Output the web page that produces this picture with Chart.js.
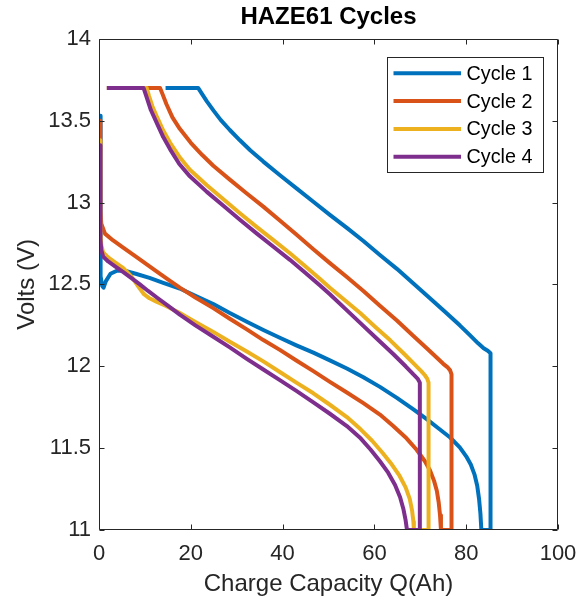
<!DOCTYPE html>
<html>
<head>
<meta charset="utf-8">
<script src="https://cdn.jsdelivr.net/npm/chart.js@4.4.1/dist/chart.umd.min.js"></script>
<style>
  html, body { margin: 0; padding: 0; background: #ffffff; }
  #wrap { width: 588px; height: 600px; }
</style>
</head>
<body>
<div id="wrap"><canvas id="c" width="588" height="600"></canvas></div>
<script>
// Titles and series
const chartTitle = 'HAZE61 Cycles';
const xAxisTitle = 'Charge Capacity Q(Ah)';
const yAxisTitle = 'Volts (V)';
const seriesNames = ['Cycle 1', 'Cycle 2', 'Cycle 3', 'Cycle 4'];
const seriesColors = ['#0072BD', '#D95319', '#EDB120', '#7E2F8E'];

// Axis ticks
const xTicks = [0, 20, 40, 60, 80, 100];
const yTicks = [11, 11.5, 12, 12.5, 13, 13.5, 14];

// Cycle 1: capacity (Ah) and voltage (V), in recorded order
const cycle1Q = [0.3, 0.3, 0.4, 0.7, 1.0, 1.5, 2.5, 4.0, 6.0, 8.0, 11.0, 14.0, 17.6, 21.0, 24.9, 28.5, 32.2, 35.8, 39.4, 43.0, 46.7, 50.3, 54.0, 57.6, 61.2, 64.9, 68.5, 71.4, 74.0, 76.5, 78.6, 80.0, 81.0, 81.8, 82.4, 82.8, 83.1, 83.3, 85.4, 85.4, 85.2, 84.7, 83.8, 82.6, 80.8, 78.6, 75.5, 72.1, 68.5, 64.9, 61.2, 57.6, 54.0, 50.3, 46.7, 43.1, 39.5, 35.8, 33.0, 30.7, 28.5, 26.5, 25.0, 23.5, 22.4, 21.6, 14.5];
const cycle1V = [13.53, 12.75, 12.55, 12.49, 12.48, 12.52, 12.565, 12.585, 12.58, 12.565, 12.54, 12.51, 12.475, 12.43, 12.38, 12.325, 12.272, 12.222, 12.174, 12.128, 12.083, 12.036, 11.986, 11.933, 11.874, 11.807, 11.737, 11.677, 11.62, 11.565, 11.505, 11.45, 11.4, 11.34, 11.27, 11.19, 11.1, 11.0, 11.0, 12.06, 12.08, 12.095, 12.11, 12.14, 12.19, 12.25, 12.33, 12.415, 12.505, 12.595, 12.68, 12.765, 12.845, 12.925, 13.005, 13.085, 13.165, 13.25, 13.318, 13.38, 13.443, 13.505, 13.56, 13.618, 13.665, 13.7, 13.7];

// Cycle 2
const cycle2Q = [0.3, 0.3, 0.5, 1.3, 3.0, 5.5, 8.5, 12.0, 15.0, 17.6, 21.0, 24.9, 28.5, 32.2, 35.8, 39.4, 43.0, 46.7, 50.3, 54.0, 57.6, 61.2, 64.1, 67.0, 69.2, 71.0, 72.1, 73.0, 73.6, 74.0, 74.3, 74.5, 76.8, 76.8, 76.5, 75.9, 75.0, 73.5, 71.4, 68.5, 64.9, 61.2, 57.6, 54.0, 50.3, 46.7, 43.0, 39.4, 35.8, 32.2, 28.5, 24.9, 22.5, 20.0, 17.6, 16.0, 14.7, 13.8, 13.3, 1.8];
const cycle2V = [13.5, 12.95, 12.87, 12.81, 12.77, 12.72, 12.66, 12.59, 12.53, 12.48, 12.42, 12.355, 12.29, 12.225, 12.16, 12.1, 12.035, 11.97, 11.905, 11.84, 11.775, 11.705, 11.635, 11.56, 11.49, 11.42, 11.365, 11.3, 11.24, 11.17, 11.09, 11.0, 11.0, 11.95, 11.975, 11.995, 12.015, 12.055, 12.11, 12.185, 12.28, 12.37, 12.46, 12.545, 12.63, 12.715, 12.805, 12.89, 12.975, 13.055, 13.14, 13.225, 13.29, 13.365, 13.45, 13.52, 13.6, 13.665, 13.7, 13.7];

// Cycle 3
const cycle3Q = [0.3, 0.3, 0.5, 0.9, 2.0, 3.5, 5.3, 7.0, 8.5, 9.8, 11.0, 12.5, 14.5, 17.6, 21.0, 24.9, 28.5, 32.2, 35.8, 39.4, 43.0, 46.7, 50.3, 54.0, 57.0, 59.5, 61.8, 63.8, 65.5, 66.8, 67.7, 68.2, 68.5, 68.6, 71.8, 71.8, 71.5, 71.0, 70.2, 68.8, 66.5, 63.4, 60.2, 56.9, 53.5, 50.3, 48.1, 45.0, 41.6, 38.0, 34.4, 30.7, 27.1, 23.5, 19.8, 17.5, 15.5, 14.0, 12.6, 11.6, 10.9, 10.4, 1.7];
const cycle3V = [13.38, 12.82, 12.74, 12.695, 12.665, 12.635, 12.6, 12.55, 12.49, 12.44, 12.415, 12.395, 12.37, 12.325, 12.27, 12.21, 12.15, 12.09, 12.03, 11.965, 11.9, 11.835, 11.765, 11.69, 11.615, 11.545, 11.47, 11.4, 11.33, 11.26, 11.19, 11.12, 11.05, 11.0, 11.0, 11.9, 11.925, 11.945, 11.97, 12.01, 12.075, 12.16, 12.24, 12.325, 12.405, 12.48, 12.535, 12.61, 12.69, 12.77, 12.85, 12.935, 13.02, 13.105, 13.2, 13.28, 13.365, 13.44, 13.525, 13.59, 13.65, 13.7, 13.7];

// Cycle 4
const cycle4Q = [0.3, 0.3, 0.5, 0.9, 2.0, 3.5, 5.3, 7.0, 8.9, 10.7, 12.6, 15.0, 17.6, 21.0, 24.9, 28.5, 32.2, 35.8, 39.4, 43.0, 46.7, 50.3, 54.0, 57.0, 59.2, 61.2, 63.0, 64.5, 65.6, 66.3, 66.8, 67.1, 69.9, 69.9, 69.4, 68.5, 66.8, 64.1, 60.5, 56.9, 53.5, 50.3, 48.1, 45.0, 41.6, 38.0, 34.4, 30.7, 27.1, 23.5, 19.8, 17.5, 15.5, 14.0, 12.6, 11.3, 10.3, 9.7, 1.7];
const cycle4V = [13.35, 12.78, 12.71, 12.67, 12.64, 12.61, 12.575, 12.54, 12.5, 12.46, 12.42, 12.37, 12.315, 12.25, 12.18, 12.115, 12.045, 11.98, 11.915, 11.85, 11.78, 11.71, 11.635, 11.56, 11.49, 11.42, 11.35, 11.275, 11.2, 11.13, 11.06, 11.0, 11.0, 11.9, 11.925, 11.95, 12.0, 12.075, 12.17, 12.265, 12.355, 12.44, 12.495, 12.57, 12.65, 12.73, 12.81, 12.895, 12.98, 13.065, 13.16, 13.235, 13.325, 13.4, 13.485, 13.565, 13.65, 13.7, 13.7];

const seriesQ = [cycle1Q, cycle2Q, cycle3Q, cycle4Q];
const seriesV = [cycle1V, cycle2V, cycle3V, cycle4V];

const FONT = "'Liberation Sans', Arial, Helvetica, sans-serif";
const AXIS_GRAY = '#262626';

const datasets = seriesNames.map((name, i) => ({
  label: name,
  data: seriesQ[i].map((q, k) => ({ x: q, y: seriesV[i][k] })),
  borderColor: seriesColors[i],
  backgroundColor: seriesColors[i],
  borderWidth: 4,
  borderJoinStyle: 'round',
  borderCapStyle: 'butt',
  pointRadius: 0,
  showLine: true,
  tension: 0,
  fill: false,
  clip: 0,
  // later cycles are painted over earlier ones
  order: seriesNames.length - i
}));

// white page background
const backgroundPlugin = {
  id: 'pageBackground',
  beforeDraw(chart) {
    const { ctx, width, height } = chart;
    ctx.save();
    ctx.fillStyle = '#ffffff';
    ctx.fillRect(0, 0, width, height);
    ctx.restore();
  }
};

// boxed axes with inward tick marks on all four sides
const framePlugin = {
  id: 'boxFrame',
  afterDatasetsDraw(chart) {
    const { ctx, chartArea: a, scales } = chart;
    const L = 5;
    ctx.save();
    ctx.strokeStyle = AXIS_GRAY;
    ctx.lineWidth = 1;
    ctx.beginPath();
    const left = Math.round(a.left) + 0.5, right = Math.round(a.right) - 0.5;
    const top = Math.round(a.top) + 0.5, bottom = Math.round(a.bottom) - 0.5;
    ctx.moveTo(left, top); ctx.lineTo(right, top); ctx.lineTo(right, bottom); ctx.lineTo(left, bottom); ctx.closePath();
    xTicks.forEach(v => {
      const px = Math.round(scales.x.getPixelForValue(v)) + 0.5;
      ctx.moveTo(px, bottom); ctx.lineTo(px, bottom - L);
      ctx.moveTo(px, top); ctx.lineTo(px, top + L);
    });
    yTicks.forEach(v => {
      const py = Math.round(scales.y.getPixelForValue(v)) + 0.5;
      ctx.moveTo(left, py); ctx.lineTo(left + L, py);
      ctx.moveTo(right, py); ctx.lineTo(right - L, py);
    });
    ctx.stroke();
    ctx.restore();
  }
};

// legend box in the upper right of the plot
const legendBoxPlugin = {
  id: 'legendBox',
  afterDraw(chart) {
    const { ctx, chartArea: a } = chart;
    const boxRight = a.right - 15.5;
    const boxTop = a.top + 18;
    const boxW = 155.5, boxH = 115;
    const boxLeft = boxRight - boxW;
    ctx.save();
    ctx.fillStyle = '#ffffff';
    ctx.fillRect(boxLeft, boxTop, boxW, boxH);
    ctx.strokeStyle = AXIS_GRAY;
    ctx.lineWidth = 1;
    ctx.strokeRect(Math.round(boxLeft) + 0.5, Math.round(boxTop) + 0.5, Math.round(boxW), Math.round(boxH));
    ctx.font = '19.8px ' + FONT;
    ctx.textBaseline = 'middle';
    ctx.textAlign = 'left';
    chart.data.datasets.forEach((ds, i) => {
      const cy = boxTop + 16.5 + i * 27.8;
      ctx.strokeStyle = ds.borderColor;
      ctx.lineWidth = 4;
      ctx.beginPath();
      ctx.moveTo(boxLeft + 6.5, cy);
      ctx.lineTo(boxLeft + 74, cy);
      ctx.stroke();
      ctx.fillStyle = '#000000';
      ctx.fillText(ds.label, boxLeft + 79.5, cy + 1);
    });
    ctx.restore();
  }
};

new Chart(document.getElementById('c'), {
  type: 'scatter',
  data: { datasets },
  options: {
    responsive: false,
    animation: false,
    events: [],
    layout: { padding: { left: 0, right: 30, top: 0, bottom: 0 } },
    plugins: {
      legend: { display: false },
      tooltip: { enabled: false },
      title: {
        display: true,
        text: chartTitle,
        fullSize: false,
        color: '#000000',
        font: { family: FONT, size: 24, weight: 'bold' },
        padding: { top: 3, bottom: 7 }
      }
    },
    scales: {
      x: {
        type: 'linear',
        min: 0,
        max: 100,
        afterBuildTicks: s => { s.ticks = xTicks.map(v => ({ value: v })); },
        afterFit: s => { s.height = 70; },
        grid: { display: false, drawTicks: false },
        border: { display: false },
        ticks: { color: AXIS_GRAY, font: { family: FONT, size: 22 }, padding: 11, maxRotation: 0, autoSkip: false, callback: v => String(v) },
        title: { display: true, text: xAxisTitle, color: AXIS_GRAY, font: { family: FONT, size: 24 }, padding: { top: 0, bottom: 1 } }
      },
      y: {
        type: 'linear',
        min: 11,
        max: 14,
        afterBuildTicks: s => { s.ticks = yTicks.map(v => ({ value: v })); },
        afterFit: s => { s.width = 99; },
        grid: { display: false, drawTicks: false },
        border: { display: false },
        ticks: { color: AXIS_GRAY, font: { family: FONT, size: 22 }, padding: 8, autoSkip: false, callback: v => String(v) },
        title: { display: true, text: yAxisTitle, color: AXIS_GRAY, font: { family: FONT, size: 24 }, padding: { top: 13, bottom: 0 } }
      }
    }
  },
  plugins: [backgroundPlugin, framePlugin, legendBoxPlugin]
});
</script>
</body>
</html>
